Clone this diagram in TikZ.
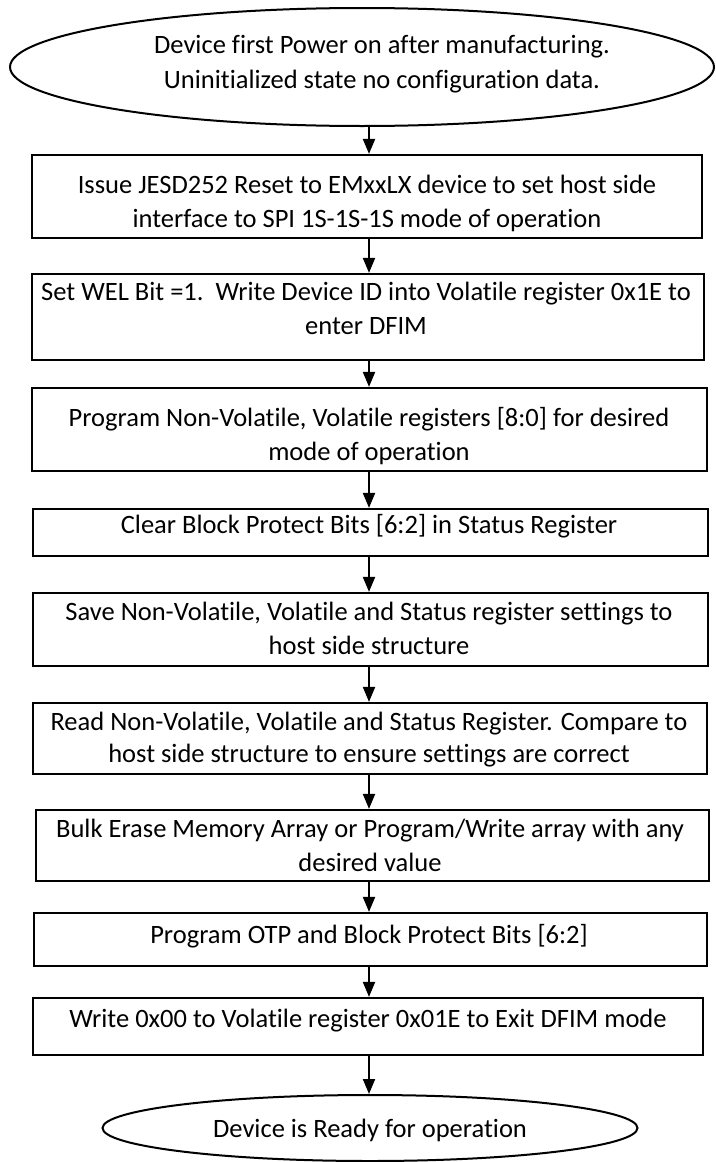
\documentclass[tikz,border=0pt]{standalone}
\usepackage{fontspec}
\setmainfont[Ligatures=CommonOff]{Carlito}
\usetikzlibrary{shapes.geometric,arrows.meta}
\begin{document}
\begin{tikzpicture}[x=1pt,y=-1pt,
  boxst/.style={draw, line width=2.2pt, rectangle, inner sep=0pt},
  ellst/.style={draw, line width=2pt, ellipse, inner sep=0pt},
  txt/.style={font=\fontsize{26.5}{34}\selectfont, anchor=base, inner sep=0pt},
  arr/.style={line width=2pt, -{Triangle[length=15pt,width=12pt]}}]
\useasboundingbox (0,0) rectangle (715,1162);
\coordinate (ax) at (369,0);
% shapes
\node[ellst, minimum width=704pt, minimum height=118pt] (e1) at (362,67) {};
\node[boxst, minimum width=670pt, minimum height=83pt] (b1) at (367,196.5) {};
\node[boxst, minimum width=672pt, minimum height=86pt] (b2) at (368,317) {};
\node[boxst, minimum width=675pt, minimum height=83pt] (b3) at (369.5,429.5) {};
\node[boxst, minimum width=675pt, minimum height=47pt] (b4) at (370.5,532.5) {};
\node[boxst, minimum width=675pt, minimum height=73pt] (b5) at (370.5,629.5) {};
\node[boxst, minimum width=674pt, minimum height=71pt] (b6) at (370,738.5) {};
\node[boxst, minimum width=673pt, minimum height=71pt] (b7) at (372.5,845.5) {};
\node[boxst, minimum width=673pt, minimum height=53pt] (b8) at (370.5,939.5) {};
\node[boxst, minimum width=670pt, minimum height=57pt] (b9) at (368,1026.5) {};
\node[ellst, minimum width=535pt, minimum height=66pt] (e2) at (370,1128) {};
% texts
\node[txt] (t0a) at (382,53) {Device first Power on after manufacturing.};
\node[txt] (t0b) at (382,88) {Uninitialized state no configuration data.};
\node[txt] (t1a) at (367,193) {Issue JESD252 Reset to EMxxLX device to set host side};
\node[txt] (t1b) at (367,227) {interface to SPI 1S-1S-1S mode of operation};
\node[txt] (t2a) at (366,300) {Set WEL Bit =1.\ \ Write Device ID into Volatile register 0x1E to};
\node[txt] (t2b) at (366,334) {enter DFIM};
\node[txt] (t3a) at (369,426) {Program Non-Volatile, Volatile registers [8:0] for desired};
\node[txt] (t3b) at (369,460) {mode of operation};
\node[txt] (t4a) at (369,533) {Clear Block Protect Bits [6:2] in Status Register};
\node[txt] (t5a) at (369,620) {Save Non-Volatile, Volatile and Status register settings to};
\node[txt] (t5b) at (369,654) {host side structure};
\node[txt] (t6a) at (369,730) {Read Non-Volatile, Volatile and Status Register. Compare to};
\node[txt] (t6b) at (369,762) {host side structure to ensure settings are correct};
\node[txt] (t7a) at (370,837) {Bulk Erase Memory Array or Program/Write array with any};
\node[txt] (t7b) at (370,871) {desired value};
\node[txt] (t8a) at (369,943) {Program OTP and Block Protect Bits [6:2]};
\node[txt] (t9a) at (368,1027) {Write 0x00 to Volatile register 0x01E to Exit DFIM mode};
\node[txt] (t10a) at (370,1137) {Device is Ready for operation};
% connectors
\draw[arr] (e1.south -| ax) -- (b1.north -| ax);
\draw[arr] (b1.south -| ax) -- (b2.north -| ax);
\draw[arr] (b2.south -| ax) -- (b3.north -| ax);
\draw[arr] (b3.south -| ax) -- (b4.north -| ax);
\draw[arr] (b4.south -| ax) -- (b5.north -| ax);
\draw[arr] (b5.south -| ax) -- (b6.north -| ax);
\draw[arr] (b6.south -| ax) -- (b7.north -| ax);
\draw[arr] (b7.south -| ax) -- (b8.north -| ax);
\draw[arr] (b8.south -| ax) -- (b9.north -| ax);
\draw[arr] (b9.south -| ax) -- (e2.north -| ax);
\end{tikzpicture}
\end{document}
